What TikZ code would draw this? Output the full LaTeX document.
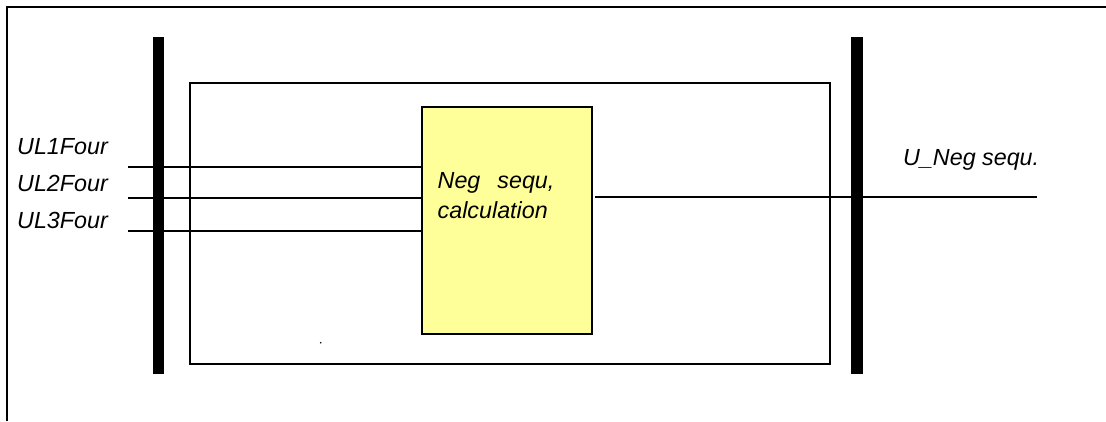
\documentclass[tikz,border=0pt]{standalone}
\usepackage{fontspec}
\setmainfont{Liberation Sans}
\definecolor{boxyellow}{HTML}{FFFF99}
\begin{document}
\begin{tikzpicture}[x=1pt,y=-1pt,
  lbl/.style={font=\fontsize{23.3}{28}\selectfont\itshape, anchor=base west, inner sep=0pt},
  bar/.style={fill=black, draw=none},
  wire/.style={line width=2pt},
  frameline/.style={line width=1.8pt}]
\useasboundingbox (0,0) rectangle (1106,421);
% outer frame (top and left lines only)
\draw[frameline] (7,421) -- (7,7) -- (1106,7);
% inner box
\node[draw, line width=1.8pt, minimum width=640pt, minimum height=281pt, inner sep=0pt, anchor=north west] (inner) at (189,82) {};
% bars
\fill[bar] (153,37) rectangle (164,374);
\fill[bar] (851,37) rectangle (863,374);
% calculation box
\node[draw, fill=boxyellow, line width=1.8pt, minimum width=170pt, minimum height=227pt, inner sep=0pt, anchor=north west] (calc) at (421,106) {};
% text in calculation box
\node[lbl] (t1) at (437.5,188.3) {Neg\hspace{17pt}sequ,};
\node[lbl] (t2) at (437.5,218.3) {calculation};
% input labels
\node[lbl] (ul1) at (17,154) {UL1Four};
\node[lbl] (ul2) at (17,191.5) {UL2Four};
\node[lbl] (ul3) at (17,228) {UL3Four};
% output label
\node[lbl] (uneg) at (903,165) {U\_Neg sequ.};
% input wires
\coordinate (i1) at (128,167.3);
\coordinate (i2) at (128,198);
\coordinate (i3) at (128,230.7);
\draw[wire] (i1) -- (calc.west |- i1);
\draw[wire] (i2) -- (calc.west |- i2);
\draw[wire] (i3) -- (calc.west |- i3);
% output wire
\coordinate (o1) at (595,197.3);
\coordinate (o2) at (1037,197.3);
\draw[wire] (o1) -- (o2);
% tiny dot
\fill (320.7,342.7) circle (0.9pt);
\end{tikzpicture}
\end{document}
